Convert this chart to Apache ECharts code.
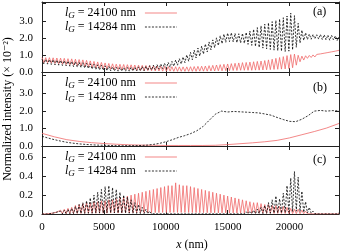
<!DOCTYPE html>
<html><head><meta charset="utf-8">
<script src="https://cdn.jsdelivr.net/npm/echarts@6/dist/echarts.min.js"></script>
<style>html,body{margin:0;padding:0;background:#fff}#c{width:360px;height:252px}</style>
</head><body><div id="c"></div>
<script>
// x spacing of the sampled oscillating curves (nm)
const xStep = 150;
// Panel (a) - sampled every 150 nm from 0 to 24000
const aRed = [
0.85,0.55,0.84,0.54,0.84,0.52,0.83,0.50,0.82,0.48,
0.81,0.46,0.80,0.44,0.78,0.42,0.77,0.40,0.75,0.38,
0.73,0.36,0.71,0.33,0.68,0.30,0.65,0.27,0.62,0.24,
0.59,0.22,0.56,0.20,0.53,0.18,0.50,0.16,0.48,0.15,
0.46,0.14,0.45,0.13,0.44,0.12,0.43,0.12,0.42,0.11,
0.41,0.10,0.40,0.09,0.39,0.08,0.38,0.08,0.37,0.07,
0.36,0.06,0.35,0.06,0.34,0.05,0.33,0.05,0.32,0.05,
0.31,0.04,0.31,0.04,0.30,0.04,0.30,0.04,0.30,0.04,
0.31,0.04,0.32,0.04,0.33,0.05,0.34,0.05,0.35,0.05,
0.37,0.06,0.39,0.06,0.41,0.07,0.43,0.07,0.45,0.08,
0.47,0.08,0.49,0.09,0.51,0.09,0.53,0.10,0.55,0.10,
0.56,0.10,0.58,0.10,0.60,0.11,0.62,0.11,0.64,0.12,
0.67,0.13,0.71,0.14,0.75,0.15,0.80,0.16,0.85,0.17,
0.90,0.18,0.96,0.20,1.02,0.25,1.05,0.40,0.98,0.60,
0.93,0.70,0.95,0.80,0.97,0.85,1.00,0.88,1.03,0.92,
1.06,0.96,1.10,1.00,1.14,1.05,1.18,1.10,1.22,1.15,1.27];
const aBlack = [
0.75,0.47,0.74,0.46,0.73,0.44,0.72,0.42,0.70,0.40,
0.68,0.38,0.66,0.36,0.64,0.34,0.62,0.31,0.60,0.29,
0.57,0.26,0.54,0.23,0.51,0.20,0.48,0.17,0.45,0.14,
0.42,0.12,0.39,0.10,0.36,0.08,0.33,0.07,0.30,0.06,
0.28,0.05,0.27,0.05,0.26,0.05,0.26,0.05,0.27,0.06,
0.28,0.06,0.30,0.07,0.32,0.08,0.34,0.10,0.37,0.12,
0.40,0.14,0.43,0.17,0.47,0.20,0.51,0.24,0.56,0.28,
0.62,0.34,0.70,0.40,0.78,0.47,0.88,0.55,1.00,0.63,
1.15,0.72,1.28,0.82,1.40,0.93,1.52,1.05,1.64,1.17,
1.76,1.30,1.88,1.42,2.00,1.55,2.12,1.66,2.22,1.74,
2.28,1.78,2.30,1.76,2.26,1.72,2.24,1.70,2.26,1.68,
2.32,1.62,2.40,1.56,2.50,1.50,2.60,1.44,2.70,1.40,
2.80,1.36,2.88,1.32,2.95,1.28,3.02,1.25,3.10,1.22,
3.18,1.20,3.28,1.22,3.45,1.30,3.30,1.45,2.85,1.70,
2.45,1.85,2.30,1.90,2.22,1.92,2.20,1.95,2.18,1.93,
2.20,1.90,2.18,1.88,2.16,1.86,2.15,1.88,2.12,1.85,2.05];
// Panel (b)
const bRedX = [0,1000,2000,3000,4000,5000,6000,7000,8000,9000,10000,11000,12000,13000,14000,15000,16000,17000,18000,19000,20000,21000,22000,23000,24000];
const bRed = [0.72,0.52,0.36,0.26,0.19,0.14,0.10,0.07,0.05,0.04,0.03,0.03,0.03,0.03,0.04,0.08,0.13,0.18,0.24,0.32,0.46,0.64,0.82,1.02,1.28];
const bBlackX = [0,500,1000,1500,2000,2500,3000,3500,4000,4500,5000,5500,6000,6500,7000,7500,8000,8500,9000,9500,10000,10500,11000,11500,12000,12500,13000,13500,14000,14500,15000,15500,16000,16500,17000,17500,18000,18500,19000,19500,20000,20500,21000,21500,22000,22500,23000,23500,24000];
const bBlack = [0.55,0.45,0.36,0.28,0.21,0.16,0.12,0.09,0.07,0.05,0.04,0.03,0.02,0.02,0.02,0.02,0.03,0.05,0.09,0.15,0.24,0.35,0.48,0.58,0.70,0.86,1.10,1.45,1.80,1.98,1.93,1.96,1.94,1.92,1.90,1.88,1.82,1.75,1.62,1.50,1.40,1.38,1.52,1.72,1.98,2.02,1.98,2.01,1.99];
// Panel (c) - sampled every 150 nm
const cRed = [
0,0,0,0,0.005,0,0.01,0,0.02,0.003,
0.04,0.003,0.05,0.004,0.06,0.005,0.07,0.005,0.09,0.006,
0.10,0.006,0.11,0.007,0.12,0.007,0.12,0.008,0.13,0.008,
0.13,0.008,0.14,0.009,0.14,0.009,0.15,0.01,0.15,0.01,
0.16,0.01,0.17,0.01,0.18,0.011,0.19,0.011,0.20,0.012,
0.21,0.012,0.22,0.013,0.23,0.013,0.24,0.014,0.25,0.014,
0.26,0.015,0.27,0.015,0.28,0.016,0.29,0.016,0.30,0.016,
0.30,0.017,0.33,0.017,0.31,0.016,0.30,0.016,0.30,0.016,
0.29,0.015,0.28,0.015,0.27,0.014,0.26,0.014,0.25,0.014,
0.24,0.013,0.23,0.013,0.22,0.012,0.21,0.012,0.20,0.012,
0.19,0.011,0.18,0.011,0.17,0.01,0.16,0.01,0.15,0.01,
0.14,0.009,0.13,0.009,0.12,0.008,0.12,0.008,0.11,0.008,
0.10,0.007,0.10,0.007,0.09,0.006,0.09,0.006,0.08,0.006,
0.08,0.005,0.07,0.005,0.06,0.004,0.05,0.004,0.05,0.003,
0.04,0.003,0.03,0.002,0.02,0.002,0.015,0.001,0.01,0.001,
0.008,0.001,0.006,0.001,0.005,0.001,0.005,0.001,0.004,0.001,0.004];
const cBlack = [
0,0,0,0,0.003,0,0.01,0,0.02,0.002,
0.03,0.003,0.04,0.003,0.05,0.004,0.06,0.004,0.08,0.005,
0.10,0.006,0.12,0.007,0.14,0.008,0.17,0.008,0.20,0.01,
0.23,0.01,0.26,0.01,0.29,0.012,0.30,0.012,0.28,0.011,
0.26,0.01,0.23,0.01,0.20,0.009,0.18,0.008,0.15,0.007,
0.12,0.006,0.10,0.005,0.07,0.004,0.05,0.003,0.03,0.002,
0.02,0.002,0.015,0.001,0.015,0.001,0.012,0.001,0.012,0.001,
0.01,0.001,0.012,0.001,0.01,0.001,0.012,0.001,0.01,0.001,
0.01,0.001,0.012,0.001,0.01,0.001,0.012,0.001,0.01,0.001,
0.012,0.001,0.01,0.001,0.012,0.001,0.01,0.001,0.012,0.001,
0.012,0.001,0.015,0.001,0.015,0.001,0.018,0.002,0.02,0.002,
0.025,0.002,0.03,0.003,0.04,0.003,0.05,0.004,0.07,0.005,
0.09,0.006,0.12,0.008,0.15,0.01,0.19,0.012,0.16,0.01,
0.22,0.015,0.30,0.02,0.38,0.025,0.45,0.03,0.39,0.025,
0.24,0.018,0.13,0.012,0.07,0.008,0.03,0.004,0.015,0.002,
0.01,0.001,0.012,0.001,0.008,0.001,0.015,0.001,0.01,0.001,0.012];
const seriesNames = ['24100', '14284'];
const panelLabels = ['(a)', '(b)', '(c)'];
const xTitle = '(nm)';
const yTitle = 'Normalized intensity (× 10⁻²)';

const FONT = '"Liberation Serif", "DejaVu Serif", serif';
const RED = '#f06a6a';
const panels = [
  {top: 2,   height: 70, max: 4.1,  interval: 1,   labMax: 3},
  {top: 72,  height: 74, max: 4.2,  interval: 1,   labMax: 3},
  {top: 146, height: 68, max: 0.72, interval: 0.2, labMax: 0.6}
];
const L = 42, W = 297;
const osc = arr => arr.map((v, i) => [i * xStep, v]);
const pair = (xs, ys) => xs.map((x, i) => [x, ys[i]]);
const dataSets = [
  [osc(aRed), osc(aBlack)],
  [pair(bRedX, bRed), pair(bBlackX, bBlack)],
  [osc(cRed), osc(cBlack)]
];
// legend key icons: solid thin bar, dashed thin bar (32 x 1 box)
let dashPath = 'path://';
for (let s = 0; s < 32; s += 3.5) dashPath += 'M' + s + ',0h' + Math.min(2, 32 - s) + 'v1h-' + Math.min(2, 32 - s) + 'z';
const solidPath = 'path://M0,0h32v1h-32z';

const axLine = {show: true, onZero: false, lineStyle: {color: '#222', width: 1}};
const axTick = {show: true, inside: true, length: 4, lineStyle: {color: '#222', width: 1}};
const grid = [], xAxis = [], yAxis = [], series = [], legend = [], graphic = [];
panels.forEach((p, k) => {
  grid.push({left: L, width: W, top: p.top, height: p.height, containLabel: false});
  const xb = {gridIndex: k, type: 'value', min: 0, max: 24000, interval: 5000, position: 'bottom',
    axisLine: axLine, axisTick: axTick, splitLine: {show: false},
    axisLabel: {show: k === 2, fontFamily: FONT, fontSize: 11, color: '#000', margin: 8,
      formatter: v => (v % 5000 === 0 ? String(v) : '')}};
  xAxis.push(xb);
  xAxis.push(Object.assign({}, xb, {position: 'top', axisLabel: {show: false}}));
  const yl = {gridIndex: k, type: 'value', min: 0, max: p.max, interval: p.interval, position: 'left',
    axisLine: axLine, axisTick: axTick, splitLine: {show: false},
    axisLabel: {fontFamily: FONT, fontSize: 11, color: '#000', margin: 9,
      formatter: v => {
        const r = v / p.interval;
        return (Math.abs(r - Math.round(r)) < 1e-6 && v <= p.labMax + 1e-9) ? v.toFixed(1) : '';
      }}};
  yAxis.push(yl);
  yAxis.push(Object.assign({}, yl, {position: 'right', axisLabel: {show: false}}));
  series.push({name: seriesNames[0], type: 'line', xAxisIndex: 2 * k, yAxisIndex: 2 * k,
    data: dataSets[k][0], symbol: 'none', showSymbol: false, animation: false,
    lineStyle: {color: RED, width: 0.8}, itemStyle: {color: RED}, clip: true});
  series.push({name: seriesNames[1], type: 'line', xAxisIndex: 2 * k, yAxisIndex: 2 * k,
    data: dataSets[k][1], symbol: 'none', showSymbol: false, animation: false,
    lineStyle: {color: '#000', width: 0.8, type: [2, 1.5]}, itemStyle: {color: '#000'}, clip: true});
  legend.push({
    data: [{name: seriesNames[0], icon: solidPath, itemStyle: {color: RED, opacity: 0.8}},
           {name: seriesNames[1], icon: dashPath, itemStyle: {color: '#333'}}],
    orient: 'vertical', align: 'right', left: 60, top: p.top - 1,
    itemGap: 0, itemWidth: 32, itemHeight: 1, selectedMode: false,
    lineStyle: {opacity: 0},
    formatter: n => '{i|l}{s|G}{t| = ' + n + ' nm}',
    textStyle: {fontFamily: FONT, fontSize: 12, color: '#000', padding: [0, 4, 0, 0], lineHeight: 12, height: 12,
      rich: {
        i: {fontFamily: FONT, fontStyle: 'italic', fontSize: 12, color: '#000', lineHeight: 12},
        s: {fontFamily: FONT, fontStyle: 'italic', fontSize: 9, color: '#000', padding: [5, 0, 0, 0], lineHeight: 10},
        t: {fontFamily: FONT, fontSize: 12, color: '#000', lineHeight: 12}
      }}
  });
  graphic.push({type: 'text', left: 313, top: p.top + (k === 0 ? 4 : 10) - (k === 2 ? 2 : 0),
    style: {text: panelLabels[k], fontFamily: FONT, fontSize: 12, fill: '#000'}});
});
graphic.push({type: 'text', x: 192, y: 245,
  style: {text: '{i|x} ' + xTitle, align: 'center', verticalAlign: 'middle',
    rich: {i: {fontFamily: FONT, fontStyle: 'italic', fontSize: 12, fill: '#000'}},
    fontFamily: FONT, fontSize: 12, fill: '#000'}});
graphic.push({type: 'text', x: 8, y: 109, rotation: Math.PI / 2,
  style: {text: yTitle, align: 'center', verticalAlign: 'middle', fontFamily: FONT, fontSize: 12, fill: '#000'}});

const chart = echarts.init(document.getElementById('c'), null, {renderer: 'canvas'});
chart.setOption({animation: false, backgroundColor: '#fff', grid, xAxis, yAxis, series, legend, graphic});
</script></body></html>
